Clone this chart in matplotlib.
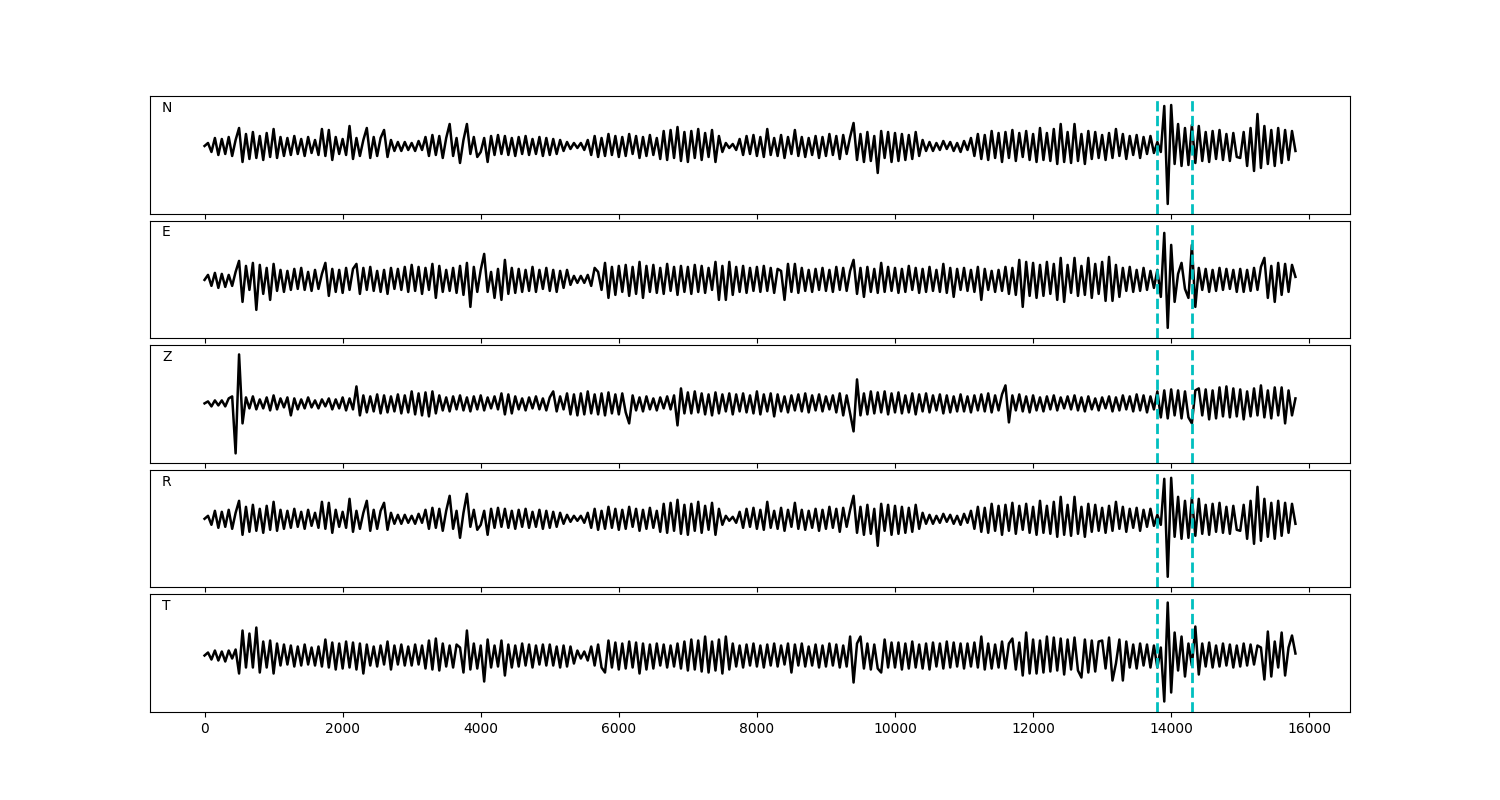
import numpy as np
import matplotlib
matplotlib.use("Agg")
import matplotlib.pyplot as plt

DT = 50  # sample spacing (time units)

N = [0, 3, -6, 8, -9, 7, -8, 9, -10, 6, 18, -16, 12, -13, 14, -12, 10, -14, 13, -11,
     17, -12, 9, -10, 8, -9, 10, -8, 7, -10, 9, -7, 6, -9, 17, -10, 16, -14, 9, -8,
     7, -9, 20, -13, 8, -10, 6, 18, -12, 9, -10, 8, 16, -11, 6, -5, 4, -5, 4, -4,
     3, -5, 5, -4, 9, -10, 11, -9, 10, -12, 8, 22, -10, 8, -17, 6, 22, -8, 9, -11,
     -6, 8, -16, 10, -9, 11, -8, 10, -9, 8, -10, 9, -8, 10, -9, 7, -8, 9, -10, 8,
     -9, 7, -8, 6, -5, 4, -3, 3, -2, 3, -4, 6, -9, 10, -11, 8, -10, 12, -9, 10,
     -11, 9, -10, 12, -8, 10, -12, 9, -10, 11, -9, 8, -13, 15, -14, 16, -12, 19, -15, 14,
     -16, 15, -12, 17, -14, 13, -11, 16, -16, 10, -6, 3, -2, 2, -4, 7, -9, 10, -8, 11,
     -10, 9, -11, 17, -9, 8, -10, 11, -12, 9, -8, 16, -10, 9, -11, 8, -9, 10, -12, 9,
     -10, 12, -9, 10, -13, 11, -8, 9, 23, -14, 12, -16, 14, -15, 10, -27, 15, -12, 14, -16,
     13, -15, 12, -14, 11, -13, 14, -10, 6, -5, 4, -5, 3, -4, 5, -3, 4, -5, 3, -6,
     5, -4, 8, -10, 12, -13, 11, -14, 15, -12, 13, -16, 14, -12, 16, -15, 13, -11, 15, -14,
     12, -16, 18, -14, 13, -15, 17, -18, 22, -16, 14, -17, 22, -15, 12, -18, 15, -13, 14, -12,
     11, -14, 13, -12, 17, -10, 12, -13, 10, -9, 11, -12, 9, -8, 10, -7, 4, -6, 40, -58,
     41, -18, 22, -20, 18, -19, 21, -17, 20, -15, 14, -16, 15, -13, 16, -14, 12, -15, 13, -11,
     -12, 14, -20, 18, -25, 32, -22, 20, -18, 16, -20, 18, -17, 16, -14, 15, -5]

E = [0, 5, -6, 7, -8, 6, -7, 5, -6, 8, 19, -22, 14, -10, 17, -30, 15, -14, 12, -20,
     16, -11, 10, -12, 9, -10, 11, -9, 12, -10, 8, -11, 10, -9, 6, 17, -16, 11, -12, 10,
     -13, 12, -10, 11, 16, -14, 12, -10, 13, -11, 9, -12, 10, -14, 12, -9, 11, -10, 13, -12,
     15, -11, 13, -14, 12, -10, 16, -18, 14, -12, 10, -11, 12, -13, 14, -15, 17, -27, 13, -12,
     10, 26, -12, 8, -18, 11, -20, 20, -14, 12, -13, 11, -12, 10, -11, 13, -12, 10, -9, 12,
     -11, 10, -12, 9, -8, 10, -5, 4, -3, 4, -3, 5, -6, 12, 8, -10, 17, -18, 13, -15,
     14, -12, 15, -16, 13, -14, 18, -18, 14, -12, 15, -13, 12, -14, 16, -11, 13, -15, 14, -12,
     13, -14, 15, -12, 14, -13, 12, -10, 18, -20, 14, -20, 18, -15, 13, -12, 14, -13, 12, -11,
     13, -12, 14, -11, 12, -13, 11, 9, -20, 16, -12, 16, -13, 12, -11, 10, -12, 11, -10, 12,
     -11, 10, -12, 13, -10, 12, -11, 9, 20, -14, 12, -17, 13, -12, 11, -13, 17, -12, 13, -11,
     12, -13, 11, -12, 14, -10, 12, -13, 11, -12, 13, -11, 10, -12, 16, -13, 12, -17, 11, -10,
     12, -11, 10, -12, 13, -20, 11, -10, 9, -12, 10, -11, 13, -14, 12, -15, 20, -27, 18, -16,
     17, -18, 15, -16, 18, -14, 16, -20, 22, -22, 15, -13, 22, -16, 14, -15, 22, -18, 16, -14,
     18, -21, 23, -21, 15, -17, 12, -11, 13, -12, 10, -11, 12, -10, 9, -8, 10, -17, 47, -48,
     35, -22, 6, 17, -9, -18, 35, -27, 12, -10, 11, -12, 10, -11, 12, -10, 11, -9, 10, -12,
     11, -12, 10, -11, 12, -10, 13, 22, -18, 14, -22, 17, -15, 16, -12, 15, 3]

Z = [0, 2, -3, 3, -2, 3, -3, 5, 7, -50, 49, -20, 6, -5, 7, -6, 4, -5, 6, -7,
     8, -6, 5, -4, 6, -12, 5, -6, 4, -5, 6, -4, 3, -5, 4, -3, 5, -6, 4, -5,
     6, -7, 5, -6, 17, -12, 8, -9, 7, -8, 9, -10, 8, -9, 7, -8, 9, -10, 8, -9,
     12, -11, 10, -12, 11, -13, 12, -10, 8, -7, 6, -8, 7, -6, 8, -7, 6, -8, 7, -6,
     8, -7, 6, -5, 7, -6, 10, -11, 9, -10, 7, -6, 5, -7, 6, -5, 7, -6, 5, -7,
     6, 12, -8, 7, -6, 10, -11, 9, -12, 10, -11, 12, -10, 9, -11, 10, -12, 11, -10, 9,
     -11, 10, -9, -20, 8, -7, 6, -8, 7, -6, 5, -7, 6, -5, 7, -6, 8, -22, 15, -10,
     11, -10, 12, -9, 10, -11, 9, -12, 11, -10, 9, -8, 10, -11, 9, -8, 10, -9, 8, -10,
     12, -11, 9, -8, 10, -13, 9, -8, 7, -9, 8, -7, 9, -8, 10, -9, 8, -7, 9, -8,
     7, -6, 8, -9, 10, -12, 8, -10, -28, 24, -12, 10, -11, 12, -10, 11, -9, 12, -11, 10,
     -9, 11, -10, 8, -9, 10, -11, 9, -8, 10, -9, 8, -7, 9, -10, 8, -9, 7, -8, 9,
     -8, 7, -9, 8, -7, 9, -8, 10, -9, 8, -7, 9, 18, -19, 8, -7, 9, -8, 7, -9,
     8, -7, 6, -8, 7, -6, 8, -7, 6, -5, 7, -6, 8, -7, 6, -8, 7, -6, 5, -7,
     6, -5, 7, -8, 6, -7, 8, -6, 7, -8, 9, -7, 8, -9, 7, -6, 12, -14, 13, -15,
     14, -12, 13, -15, 12, -14, -20, 13, 15, -12, 14, -16, 13, -15, 16, -13, 17, -14, 15, -13,
     14, -16, 12, -13, 15, -12, 18, -14, 13, -15, 16, -12, 16, -20, 13, -12, 5]

R = [0, 3, -6, 8, -9, 7, -8, 9, -10, 6, 18, -16, 12, -13, 14, -12, 10, -14, 13, -11,
     17, -12, 9, -10, 8, -9, 10, -8, 7, -10, 9, -7, 6, -9, 17, -10, 16, -14, 9, -8,
     7, -9, 20, -13, 8, -10, 6, 18, -12, 9, -10, 8, 16, -11, 6, -5, 4, -5, 4, -4,
     3, -5, 5, -4, 9, -10, 11, -9, 10, -12, 8, 23, -10, 8, -19, 6, 25, -8, 9, -11,
     -6, 8, -16, 10, -9, 11, -8, 10, -9, 8, -10, 9, -8, 10, -9, 7, -8, 9, -10, 8,
     -9, 7, -8, 6, -5, 4, -3, 3, -2, 3, -4, 6, -9, 10, -11, 8, -10, 12, -9, 10,
     -11, 9, -10, 12, -8, 10, -12, 9, -10, 11, -9, 8, -13, 15, -14, 16, -12, 19, -15, 14,
     -16, 15, -12, 17, -14, 13, -11, 16, -16, 10, -6, 3, -2, 2, -4, 7, -9, 10, -8, 11,
     -10, 9, -11, 17, -9, 8, -10, 11, -12, 9, -8, 16, -10, 9, -11, 8, -9, 10, -12, 9,
     -10, 12, -9, 10, -13, 11, -8, 9, 23, -14, 12, -16, 14, -15, 10, -27, 15, -12, 14, -16,
     13, -15, 12, -14, 11, -13, 14, -10, 6, -5, 4, -5, 3, -4, 5, -3, 4, -5, 3, -6,
     5, -4, 8, -10, 12, -13, 11, -14, 15, -12, 13, -16, 14, -12, 16, -15, 13, -11, 15, -14,
     12, -16, 18, -14, 13, -15, 17, -18, 22, -16, 14, -17, 22, -15, 12, -18, 15, -13, 14, -12,
     11, -14, 13, -12, 17, -10, 12, -13, 10, -9, 11, -12, 9, -8, 10, -7, 4, -6, 40, -58,
     41, -18, 22, -20, 18, -19, 21, -17, 20, -15, 14, -16, 15, -13, 16, -14, 12, -15, 13, -11,
     -12, 14, -20, 18, -25, 32, -22, 20, -18, 16, -20, 18, -17, 16, -14, 15, -5]

T = [0, 3, -4, 5, -5, 4, -6, 5, -3, 6, -18, 25, -12, 22, -12, 28, -17, 14, -12, 15,
     -18, 12, -10, 11, -9, 10, -11, 9, -10, 11, -9, 8, -10, 9, -11, 16, -12, 13, -14, 12,
     -13, 14, -12, 13, -14, 12, -18, 11, -10, 9, -11, 10, -9, 14, -14, 10, -9, 11, -10, 9,
     -10, 11, -9, 10, -13, 15, -14, 17, -15, 12, -11, 10, -12, 11, 8, -17, 25, -14, 12, -13,
     10, -26, 16, -12, 10, -11, 15, -20, 11, -12, 10, -11, 12, -10, 11, -12, 10, -9, 11, -10,
     11, -10, 9, -12, 10, -11, 9, -8, 5, -3, 4, -5, 9, -10, 11, -12, -17, 15, -12, 13,
     -14, 12, -13, 14, -12, 13, -18, 12, -14, 11, -13, 12, -10, 11, -12, 10, -11, 12, -13, 14,
     -15, 16, -14, 15, -16, 19, -17, 14, -15, 16, -18, 19, -14, 12, -11, 10, -12, 11, -10, 12,
     -11, 10, -12, 11, -10, 12, -11, 10, -9, 12, -17, 11, -10, 12, -11, 9, -10, 11, -12, 10,
     -11, 12, -10, 11, -12, 10, -11, 19, -27, 12, 19, -13, 12, -14, 11, -13, -17, 16, -12, 13,
     -12, 13, -14, 12, -13, 14, -12, 11, -13, 12, -14, 13, -11, 12, -13, 14, -12, 13, -11, 12,
     -13, 12, -11, 13, -12, 19, -14, 12, -13, 11, -12, 14, -13, 12, 17, -14, 13, -20, 23, -18,
     16, -18, 15, -17, 19, -16, 18, -15, 17, -19, 16, -14, 18, -15, -22, 16, -17, 15, -16, 14,
     15, -13, 18, -25, -8, 16, -25, 14, -12, 11, -13, 12, -10, 11, -12, 10, -12, 8, -46, 53,
     -37, 23, -15, 19, -21, 12, -10, 29, -19, 12, -11, 13, -12, 10, -11, 12, -10, 11, -12, 10,
     -11, 12, -10, 11, -9, 10, 8, -24, 24, -21, 14, -12, 23, -20, 8, 20, 2]

channels = ["N", "E", "Z", "R", "T"]
traces = [N, E, Z, R, T]
ylims = [(-67.6, 50.0), (-58.3, 59.3), (-59.4, 58.2), (-68.6, 49.0), (-56.5, 61.1)]
picks = [13800, 14300]

fig, axes = plt.subplots(5, 1, figsize=(15, 8), dpi=100, sharex=True)
fig.subplots_adjust(left=0.1, right=0.9, top=0.88, bottom=0.11, hspace=0.06)

for ax, name, vals, yl in zip(axes, channels, traces, ylims):
    v = np.asarray(vals, dtype=float)
    t = np.arange(len(v)) * DT
    ax.plot(t, v, color="black", lw=1.8)
    for p in picks:
        ax.axvline(p, color="c", ls="--", lw=2)
    ax.set_ylim(*yl)
    ax.set_yticks([])
    ax.text(0.01, 0.9, name, transform=ax.transAxes, ha="left", va="center", fontsize=10)

axes[-1].set_xticks(np.arange(0, 16001, 2000))
fig.savefig("out.png", dpi=100)
